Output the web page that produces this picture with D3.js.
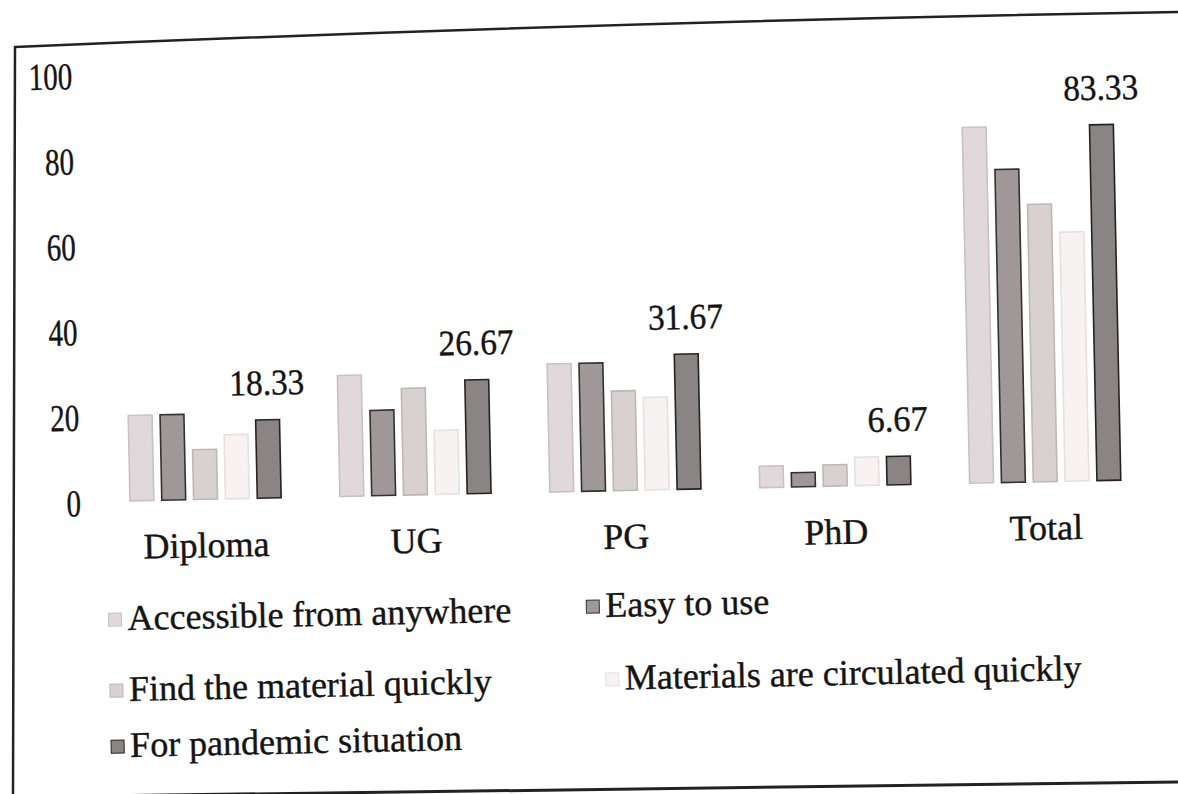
<!DOCTYPE html>
<html>
<head>
<meta charset="utf-8">
<script src="https://cdn.jsdelivr.net/npm/d3@7"></script>
<style>
	body { margin: 0; background: #fff; }
	text { font-family: 'Liberation Serif', 'Times New Roman', serif; fill: #141414; stroke: #141414; stroke-width: 0.4; }
</style>
</head>
<body>
<div id="wrapper"></div>
<script>
// Data
const categories = ['Diploma', 'UG', 'PG', 'PhD', 'Total']
const seriesNames = [
	'Accessible from anywhere',
	'Easy to use',
	'Find the material quickly',
	'Materials are circulated quickly',
	'For pandemic situation'
]
const accessible = [20, 28.33, 30, 5, 83.33]
const easyToUse = [20, 20, 30, 3.33, 73.33]
const findQuickly = [11.67, 25, 23.33, 5, 65]
const circulated = [15, 15, 21.67, 6.67, 58.33]
const pandemic = [18.33, 26.67, 31.67, 6.67, 83.33]
const yTicks = [0, 20, 40, 60, 80, 100]

const allSeries = [accessible, easyToUse, findQuickly, circulated, pandemic]
const fills = ['#e0d8da', '#a09898', '#d9d0d0', '#f8f2f2', '#8b8484']
const strokes = ['#c9c1c3', '#353030', '#bfb6b6', '#e8dfdf', '#272222']

async function drawChart() {
	const dimensions = {
		width: 1178,
		height: 794,
		margin: { top: 64, left: 107, right: 38, bottom: 303 }
	}
	dimensions.boundedWidth = dimensions.width - dimensions.margin.left - dimensions.margin.right
	dimensions.boundedHeight = dimensions.height - dimensions.margin.top - dimensions.margin.bottom

	const wrapper = d3.select('#wrapper')
		.append('svg')
			.attr('width', dimensions.width)
			.attr('height', dimensions.height)

	// photographed frame
	wrapper.append('path')
		.attr('d', 'M13,796 L15,47 Q600,22 1178,12')
		.attr('fill', 'none')
		.attr('stroke', '#222')
		.attr('stroke-width', 2.5)
	wrapper.append('path')
		.attr('d', 'M13,797 L1178,782')
		.attr('fill', 'none')
		.attr('stroke', '#222')
		.attr('stroke-width', 3)

	// the photo is slightly tilted
	const chart = wrapper.append('g')
		.attr('transform', 'rotate(-1.2, 600, 400)')

	const bounds = chart.append('g')
		.attr('transform', `translate(${dimensions.margin.left},${dimensions.margin.top})`)

	// Scales
	const xScale = d3.scaleBand()
		.domain(categories)
		.range([0, dimensions.boundedWidth])
		.paddingInner(0.28)
		.paddingOuter(0.1)

	const seriesScale = d3.scaleBand()
		.domain(d3.range(seriesNames.length))
		.range([0, xScale.bandwidth()])
		.paddingInner(0.25)

	const yScale = d3.scaleLinear()
		.domain([0, 100])
		.range([dimensions.boundedHeight, 0])

	// Y axis labels
	const yAxis = d3.axisLeft(yScale)
		.tickValues(yTicks)
		.tickSize(0)
		.tickPadding(0)
	const yAxisGroup = bounds.append('g')
		.attr('transform', 'translate(-28,0)')
		.call(yAxis)
	yAxisGroup.select('.domain').remove()
	yAxisGroup.selectAll('text')
		.attr('font-size', 38)
		.attr('font-family', 'Liberation Serif')
		.attr('fill', '#141414')
		.attr('dy', '0.36em')
		.attr('textLength', d => String(d).length * 14.5)
		.attr('lengthAdjust', 'spacingAndGlyphs')

	// Bars
	const groups = bounds.selectAll('.group')
		.data(categories)
		.join('g')
			.attr('class', 'group')
			.attr('transform', d => `translate(${xScale(d)},0)`)

	groups.selectAll('rect')
		.data((c, ci) => allSeries.map((s, si) => ({ si, value: s[ci] })))
		.join('rect')
			.attr('x', d => seriesScale(d.si))
			.attr('width', seriesScale.bandwidth())
			.attr('y', d => yScale(d.value))
			.attr('height', d => yScale(0) - yScale(d.value))
			.attr('fill', d => fills[d.si])
			.attr('stroke', d => strokes[d.si])
			.attr('stroke-width', 1.6)

	// Data labels on pandemic series
	groups.append('text')
		.attr('x', (c) => seriesScale(4) + seriesScale.bandwidth() / 2)
		.attr('y', (c, ci) => yScale(pandemic[ci]) - 25)
		.attr('text-anchor', 'middle')
		.attr('font-size', 36)
		.attr('textLength', (c, ci) => d3.format('.2f')(pandemic[ci]).length * 15)
		.attr('lengthAdjust', 'spacingAndGlyphs')
		.text((c, ci) => d3.format('.2f')(pandemic[ci]))

	// X axis labels
	const xAxis = d3.axisBottom(xScale).tickSize(0).tickPadding(0)
	const xAxisGroup = bounds.append('g')
		.attr('transform', `translate(0,${dimensions.boundedHeight + 58})`)
		.call(xAxis)
	xAxisGroup.select('.domain').remove()
	xAxisGroup.selectAll('text')
		.attr('font-size', 36)
		.attr('font-family', 'Liberation Serif')
		.attr('fill', '#141414')
		.attr('dy', 0)

	// Legend
	const legendPos = [
		{ x: 104, y: 620 },
		{ x: 582, y: 617 },
		{ x: 104, y: 691 },
		{ x: 600, y: 690 },
		{ x: 104, y: 747 }
	]
	const legend = chart.selectAll('.legend')
		.data(seriesNames)
		.join('g')
			.attr('class', 'legend')
			.attr('transform', (d, i) => `translate(${legendPos[i].x},${legendPos[i].y})`)
	legend.append('rect')
		.attr('x', 0)
		.attr('y', -17)
		.attr('width', 13)
		.attr('height', 13)
		.attr('fill', (d, i) => fills[i])
		.attr('stroke', (d, i) => strokes[i])
		.attr('stroke-width', 1)
	legend.append('text')
		.attr('x', 19)
		.attr('y', 0)
		.attr('font-size', 36)
		.text(d => d)
}
drawChart()
</script>
</body>
</html>
